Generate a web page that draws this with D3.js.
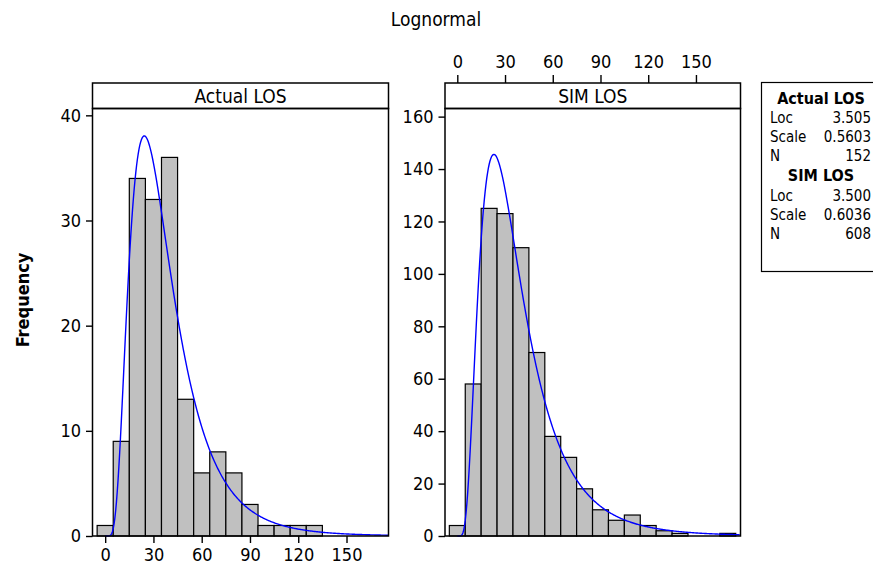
<!DOCTYPE html>
<html>
<head>
<meta charset="utf-8">
<script src="https://cdn.jsdelivr.net/npm/d3@7"></script>
<style>
body { margin: 0; background: #fff; }
text { font-family: "DejaVu Sans Condensed", "DejaVu Sans", sans-serif; fill: #000; }
</style>
</head>
<body>
<div id="chart"></div>
<script>
// histogram bins (midpoints, width 10)
const binMids = [0, 10, 20, 30, 40, 50, 60, 70, 80, 90, 100, 110, 120, 130, 140, 150, 160, 170];
const actualCounts = [1, 9, 34, 32, 36, 13, 6, 8, 6, 3, 1, 1, 1, 1, 0, 0, 0, 0];
const simCounts = [4, 58, 125, 123, 110, 70, 38, 30, 18, 10, 6, 8, 4, 2, 1, 0, 0, 1];
const binWidth = 10;

const xTicks = [0, 30, 60, 90, 120, 150];
const actualYTicks = [0, 10, 20, 30, 40];
const simYTicks = [0, 20, 40, 60, 80, 100, 120, 140, 160];

// lognormal fit table
const fitNames = ["Actual LOS", "SIM LOS"];
const fitLoc = [3.505, 3.500];
const fitScale = [0.5603, 0.6036];
const fitN = [152, 608];

const W = 873, H = 568;
const top0 = 83, stripBottom = 108.5, bottom0 = 536;

const svg = d3.select("#chart")
    .append("svg")
    .attr("width", W)
    .attr("height", H);

svg.append("text")
    .attr("x", 436)
    .attr("y", 26)
    .attr("text-anchor", "middle")
    .style("font-size", "19px")
    .text("Lognormal");

svg.append("text")
    .attr("transform", "translate(29,300) rotate(-90)")
    .attr("text-anchor", "middle")
    .style("font-size", "18px")
    .style("font-weight", "bold")
    .text("Frequency");

const panels = [
    { x0: 92.5, x1: 388.5, xMin: -7.88, xMax: 176.1, yMax: 40.65, counts: actualCounts, yTicks: actualYTicks, xAxis: "bottom" },
    { x0: 445, x1: 740.5, xMin: -7.73, xMax: 178.0, yMax: 163.1, counts: simCounts, yTicks: simYTicks, xAxis: "top" }
];

function lognormPdf(x, mu, s) {
    if (x <= 0) return 0;
    return Math.exp(-Math.pow(Math.log(x) - mu, 2) / (2 * s * s)) / (x * s * Math.sqrt(2 * Math.PI));
}

panels.forEach((p, i) => {
    const x = d3.scaleLinear().domain([p.xMin, p.xMax]).range([p.x0, p.x1]);
    const y = d3.scaleLinear().domain([0, p.yMax]).range([bottom0, stripBottom]);
    const g = svg.append("g");

    // strip
    g.append("rect")
        .attr("x", p.x0).attr("y", top0)
        .attr("width", p.x1 - p.x0).attr("height", stripBottom - top0)
        .attr("fill", "#fff").attr("stroke", "#000").attr("stroke-width", 1.5);
    g.append("text")
        .attr("x", (p.x0 + p.x1) / 2)
        .attr("y", stripBottom - 6)
        .attr("text-anchor", "middle")
        .style("font-size", "19px")
        .text(fitNames[i]);

    // bars
    const bars = binMids.map((m, k) => ({ mid: m, count: p.counts[k] })).filter(d => d.count > 0);
    g.selectAll(".bar")
        .data(bars)
        .enter()
        .append("rect")
        .attr("x", d => x(d.mid - binWidth / 2))
        .attr("y", d => y(d.count))
        .attr("width", d => x(d.mid + binWidth / 2) - x(d.mid - binWidth / 2))
        .attr("height", d => bottom0 - y(d.count))
        .attr("fill", "#c0c0c0")
        .attr("stroke", "#000")
        .attr("stroke-width", 1.2);

    // fitted curve
    const pts = d3.range(0, p.xMax, 0.5).map(v => [v, lognormPdf(v, fitLoc[i], fitScale[i]) * fitN[i] * binWidth]);
    g.append("path")
        .datum(pts)
        .attr("fill", "none")
        .attr("stroke", "#0000ff")
        .attr("stroke-width", 1.4)
        .attr("d", d3.line().x(d => x(d[0])).y(d => y(d[1])));

    // frame
    g.append("rect")
        .attr("x", p.x0).attr("y", stripBottom)
        .attr("width", p.x1 - p.x0).attr("height", bottom0 - stripBottom)
        .attr("fill", "none").attr("stroke", "#000").attr("stroke-width", 1.5);

    // y axis
    const ya = g.append("g")
        .attr("transform", `translate(${p.x0},0)`)
        .call(d3.axisLeft(y).tickValues(p.yTicks).tickSize(6.5).tickPadding(5));
    ya.select(".domain").remove();
    ya.selectAll("text").style("font-size", "18px").style("font-family", null);
    ya.selectAll("line").attr("stroke-width", 1.4);

    // x axis
    const xa = g.append("g");
    if (p.xAxis === "bottom") {
        xa.attr("transform", `translate(0,${bottom0})`)
            .call(d3.axisBottom(x).tickValues(xTicks).tickSize(7).tickPadding(5));
    } else {
        xa.attr("transform", `translate(0,${top0})`)
            .call(d3.axisTop(x).tickValues(xTicks).tickSize(8).tickPadding(7));
    }
    xa.select(".domain").remove();
    xa.selectAll("text").style("font-size", "18px").style("font-family", null);
    xa.selectAll("line").attr("stroke-width", 1.4);
});

// fit table
const lg = svg.append("g");
lg.append("rect")
    .attr("x", 761.5).attr("y", 82.5)
    .attr("width", 130).attr("height", 189)
    .attr("fill", "#fff").attr("stroke", "#000").attr("stroke-width", 1.2);

const rowsY = [[104, 123, 142, 161], [181, 201, 220, 239]];
fitNames.forEach((name, i) => {
    const r = rowsY[i];
    lg.append("text")
        .attr("x", 821).attr("y", r[0])
        .attr("text-anchor", "middle")
        .style("font-size", "16px").style("font-weight", "bold")
        .text(name);
    const rows = [["Loc", fitLoc[i].toFixed(3)], ["Scale", fitScale[i].toFixed(4)], ["N", fitN[i]]];
    rows.forEach((row, k) => {
        lg.append("text").attr("x", 770).attr("y", r[k + 1])
            .style("font-size", "15px").text(row[0]);
        lg.append("text").attr("x", 871).attr("y", r[k + 1])
            .attr("text-anchor", "end")
            .style("font-size", "15px").text(row[1]);
    });
});
</script>
</body>
</html>
